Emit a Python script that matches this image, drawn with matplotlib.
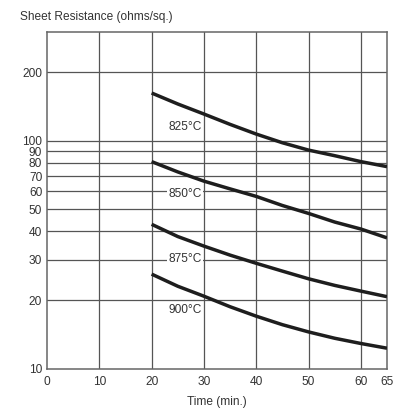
import matplotlib
matplotlib.use("Agg")
import matplotlib.pyplot as plt
from matplotlib.ticker import FixedLocator, NullLocator

plt.rcParams['font.family'] = ['Liberation Sans', 'DejaVu Sans']

time = [20, 25, 30, 35, 40, 45, 50, 55, 60, 65]
r825 = [162, 145, 131, 118, 107, 98, 91, 86, 81, 77]
r850 = [81, 73, 66.5, 61.5, 57, 52, 48, 44, 41, 37.5]
r875 = [43, 38, 34.5, 31.5, 29, 26.8, 24.8, 23.2, 21.9, 20.7]
r900 = [26, 23, 20.8, 18.7, 17, 15.6, 14.5, 13.6, 12.9, 12.3]

series = [r825, r850, r875, r900]
labels = ["825°C", "850°C", "875°C", "900°C"]
label_x = 26.4
label_y = [115, 58.4, 30.4, 18.1]

xticks = [0, 10, 20, 30, 40, 50, 60, 65]
yticks = [10, 20, 30, 40, 50, 60, 70, 80, 90, 100, 200]

fs = 8.6
fig = plt.figure(figsize=(4.12, 4.16), dpi=100)
ax = fig.add_axes([47/412, 1-368.7/416, 340/412, (368.7-32)/416])

ax.set_yscale('log')
ax.set_xlim(0, 65)
ax.set_ylim(10, 300)

gc = '#555555'
for v in yticks[1:]:
    ax.axhline(v, color=gc, lw=0.9, zorder=1)
for v in xticks[1:-1]:
    ax.axvline(v, color=gc, lw=0.9, zorder=1)

for ys in series:
    ax.plot(time, ys, color='#1e1e1e', lw=2.5, solid_capstyle='butt',
            solid_joinstyle='round', zorder=3)

for lab, ly in zip(labels, label_y):
    ax.text(label_x, ly, lab, ha='center', va='center', fontsize=fs, color='#333333',
            bbox=dict(facecolor='white', edgecolor='none', pad=0.8), zorder=2)

ax.yaxis.set_major_locator(FixedLocator(yticks))
ax.yaxis.set_minor_locator(NullLocator())
ax.set_yticklabels([str(v) for v in yticks])
ax.xaxis.set_major_locator(FixedLocator(xticks))
ax.set_xticklabels([str(v) for v in xticks])
ax.tick_params(axis='both', length=0, labelsize=fs, labelcolor='#333333')
ax.tick_params(axis='y', pad=3.5)
ax.tick_params(axis='x', pad=5)

for s in ax.spines.values():
    s.set_color('#666666')
    s.set_linewidth(1.1)

ax.set_xlabel("Time (min.)", fontsize=fs, color='#333333', labelpad=6)
fig.text(20/412, 1-17/416, "Sheet Resistance (ohms/sq.)", ha='left', va='center',
         fontsize=fs, color='#333333')

fig.savefig("out.png", dpi=100, facecolor='white')
